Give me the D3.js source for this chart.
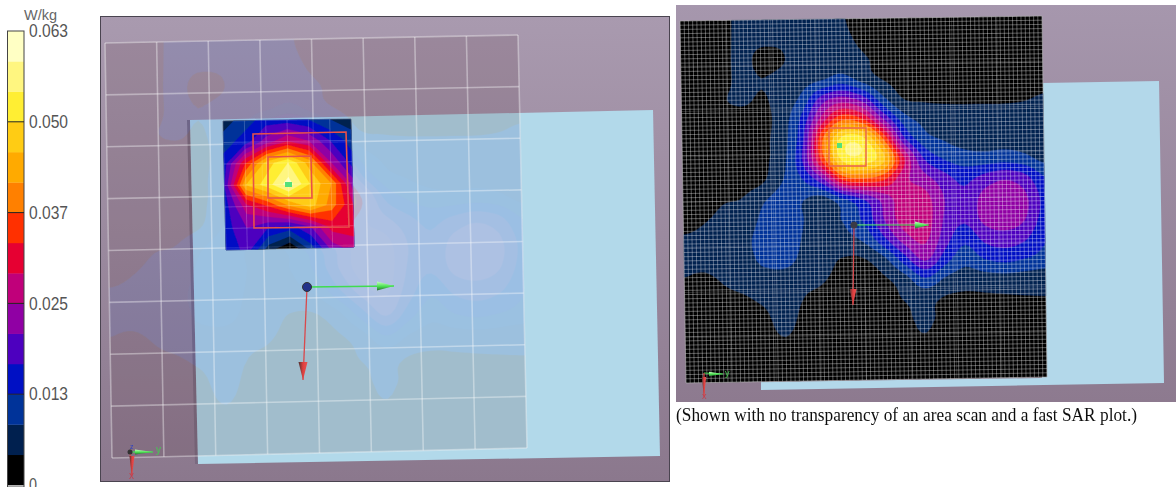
<!DOCTYPE html>
<html><head><meta charset="utf-8">
<style>html,body{margin:0;padding:0;background:#fff;overflow:hidden}svg{display:block}</style>
<script src="https://cdn.jsdelivr.net/npm/d3@7/dist/d3.min.js"></script>
</head><body><svg id="c" width="1176" height="487"></svg>
<script>
// Data: colour bands of the SAR scale, bottom to top of the legend
const bandColors = ["#000000","#00204f","#003399","#0010c4","#4d00bf","#9000a4","#c0007a","#e60032","#ff3000","#ff8000","#ffaa00","#ffcc14","#ffee33","#fff680","#ffffc4"];
// Same bands as they tint through the transparent area scan of the left view
const tintColors = ["#5a4148","#3d54ac","#3658bc","#3a4ccc","#6a50c8","#9a58c8","#ac60c0","#e60032","#ff3000","#ff8000","#ffaa00","#ffcc14","#ffee33","#fff680","#ffffc4"];
const scaleMax = 0.063;
const tickValues = [0.063,0.0504,0.0378,0.0252,0.0126,0];
const tickLabels = ["0.063","0.050","0.037","0.025","0.013","0"];
const unitLabel = "W/kg";
const caption = "(Shown with no transparency of an area scan and a fast SAR plot.)";
// Area scan read in legend band units (1 band = 0.0042 W/kg); 19 x 19 nodes
const areaScan = [
[.4,.4,.6,1.3,1.5,1.6,1.6,1.4,1.1,.6,.4,.3,.3,.3,.3,.3,.3,.3,.3],
[.4,.4,.6,1.3,1.2,1.2,1.5,1.4,1.25,.8,.4,.3,.3,.3,.3,.3,.3,.3,.3],
[.4,.4,.6,1.3,.7,.9,1.5,1.5,1.5,1.15,.7,.4,.3,.3,.3,.3,.3,.3,.3],
[.4,.4,.6,1.3,1.02,1.3,1.6,1.9,2.4,1.6,.95,.7,.5,.5,.5,.5,.5,.5,.6],
[.4,.4,.9,1.15,.9,1.4,2.3,4.5,5.4,4.5,2.3,1,.85,.8,.8,.8,.8,.9,1.05],
[.4,.4,.5,.6,.7,1.5,3.3,6.5,8.8,8,5,2.5,1.7,1.5,1.4,1.4,1.4,1.3,1.2],
[.4,.4,.5,.6,.8,1.6,3.8,9,12.4,12.3,9,4.3,2.4,1.9,1.6,1.6,1.7,1.6,1.3],
[.4,.4,.5,.6,.8,1.7,4.1,8.5,12.3,12.6,11.3,7.2,4,2.9,2.4,2.3,2.4,2.2,1.6],
[.4,.4,.5,.6,.9,2,3,4.8,8.2,8.8,8.2,6.3,5.4,4.4,3.7,4.3,4.8,4.3,3],
[.5,.7,.95,1.1,1.9,2.5,2,1.6,2.8,4,5.4,6.5,6.4,5,4.2,5.3,5.6,5.2,3.7],
[.6,.95,1.2,1.5,2.2,2.5,2,1.6,2.1,3.2,5,6.5,6.6,4.9,4.2,5.3,5.6,5.1,3.6],
[1.2,1.3,1.5,1.8,2.3,2.5,1.9,1.5,1.7,2.2,3.8,5.5,6.2,4.5,3.3,4.3,4.6,4.2,3.1],
[1.2,1.2,1.4,1.6,2.2,2.3,1.7,1.3,.9,.95,1.8,3.6,5.2,3.5,2.4,3.1,3.4,3.1,2.7],
[.95,.8,1.05,1.2,1.4,1.5,1.2,1.02,.7,.7,.9,1.6,2.9,1.9,1.5,1.6,1.7,1.6,1.5],
[.95,.6,.8,.9,1.1,1.4,.95,.8,.5,.5,.7,1.05,1.3,.9,.8,.85,.9,.95,.98],
[.5,.4,.5,.6,.8,1.3,.7,.5,.4,.4,.5,.85,1.15,.75,.6,.5,.5,.5,.5],
[.4,.3,.3,.4,.6,.9,.5,.4,.3,.3,.4,.7,.9,.5,.4,.3,.3,.3,.3],
[.3,.3,.3,.3,.3,.3,.3,.3,.3,.3,.3,.3,.3,.3,.3,.3,.3,.3,.3],
[.3,.3,.3,.3,.3,.3,.3,.3,.3,.3,.3,.3,.3,.3,.3,.3,.3,.3,.3]];
// Zoom scan over the hot spot, same units; 7 x 7 nodes
const zoomScan = [
[1.5,2.5,3.5,3.5,3,2,1.5],
[2.5,3.5,5.5,7,6,4,2.5],
[3.5,8,11.5,13,10.5,6,3.5],
[4,11,12.5,14.5,12,10,5.5],
[3.5,6.5,8,10,11.5,9.5,7],
[3.5,5,4,3.5,5,7.5,7.5],
[3,4.5,1.5,0,2.5,5.5,6.5]];

const svg = d3.select("#c");
const defs = svg.append("defs");
function soft(id,s){defs.append("filter").attr("id",id).attr("x","-5%").attr("y","-5%").attr("width","110%").attr("height","110%")
  .append("feGaussianBlur").attr("stdDeviation",s);}
soft("soft",0.6); soft("softT",0.3);
function bg(id,a,b){const g=defs.append("linearGradient").attr("id",id).attr("x1",0).attr("x2",0).attr("y1",0).attr("y2",1);
 g.append("stop").attr("offset",0).attr("stop-color",a);g.append("stop").attr("offset",1).attr("stop-color",b);}
bg("bgL","#a99aaf","#8b788d"); bg("bgR","#a697ad","#8d7a8f");

function quad(c){const [a,b,d,e]=c;return (u,v)=>[
 (1-v)*((1-u)*a[0]+u*b[0])+v*((1-u)*e[0]+u*d[0]),
 (1-v)*((1-u)*a[1]+u*b[1])+v*((1-u)*e[1]+u*d[1])];}
function poly(sel,c,fill){return sel.append("polygon").attr("points",c.join(" ")).attr("fill",fill);}
function upsample(g,f){const ny=g.length,nx=g[0].length,W=(nx-1)*f+1,H=(ny-1)*f+1,o=new Array(W*H);
 const cr=(p0,p1,p2,p3,t)=>.5*(2*p1+(p2-p0)*t+(2*p0-5*p1+4*p2-p3)*t*t+(3*p1-p0-3*p2+p3)*t*t*t);
 const at=(x,y)=>g[Math.max(0,Math.min(ny-1,y))][Math.max(0,Math.min(nx-1,x))];
 for(let j=0;j<H;j++)for(let i=0;i<W;i++){const xf=i/f,yf=j/f,x=Math.min(nx-2,Math.floor(xf)),y=Math.min(ny-2,Math.floor(yf)),tx=xf-x,ty=yf-y;
  const r=[-1,0,1,2].map(k=>cr(at(x-1,y+k),at(x,y+k),at(x+1,y+k),at(x+2,y+k),tx));
  o[j*W+i]=cr(r[0],r[1],r[2],r[3],ty);}
 return {values:o,w:W,h:H};}
function drawContours(sel,values,w,h,Q,opacity,colors){
 const tf=(c,n)=>Math.max(0,Math.min(1,(c-.5)/(n-1)));
 const path=d3.geoPath(d3.geoTransform({point(x,y){const p=Q(tf(x,w),tf(y,h));this.stream.point(p[0],p[1]);}}));
 const gen=d3.contours().size([w,h]).smooth(true);
 const g=sel.append("g").attr("opacity",opacity);
 colors.forEach((col,i)=>{
  const vals=i===0?values.map(v=>Math.max(v,0.01)):values;
  g.append("path").attr("d",path(gen.contour(vals,i===0?0:i))).attr("fill",col).attr("stroke",col).attr("stroke-width",.3);});
 return g;}
function mesh(sel,Q,nx,ny,stroke,op,w){
 const g=sel.append("g").attr("fill","none").attr("stroke",stroke).attr("stroke-opacity",op).attr("stroke-width",w);
 d3.range(nx+1).forEach(i=>{const a=Q(i/nx,0),b=Q(i/nx,1);g.append("line").attr("x1",a[0]).attr("y1",a[1]).attr("x2",b[0]).attr("y2",b[1]);});
 d3.range(ny+1).forEach(j=>{const a=Q(0,j/ny),b=Q(1,j/ny);g.append("line").attr("x1",a[0]).attr("y1",a[1]).attr("x2",b[0]).attr("y2",b[1]);});}
function rect4(sel,c,stroke,w){sel.append("polygon").attr("points",c.join(" ")).attr("fill","none").attr("stroke",stroke).attr("stroke-width",w);}
const gr=defs.append("linearGradient").attr("id","coneG").attr("x1",0).attr("x2",0).attr("y1",0).attr("y2",1);
gr.append("stop").attr("offset",0).attr("stop-color","#c8ffc0");gr.append("stop").attr("offset",.55).attr("stop-color","#49e050");gr.append("stop").attr("offset",1).attr("stop-color","#2b6b33");
const rg=defs.append("linearGradient").attr("id","coneR");
rg.append("stop").attr("offset",0).attr("stop-color","#4a3030");rg.append("stop").attr("offset",.5).attr("stop-color","#e04040");rg.append("stop").attr("offset",1).attr("stop-color","#e85050");
function axesGlyph(sel,o,gx,cx,gy,cy,r,w){
 sel.append("line").attr("x1",o[0]).attr("y1",o[1]).attr("x2",gx[0]).attr("y2",gx[1]).attr("stroke","#3fdc4f").attr("stroke-width",w);
 sel.append("polygon").attr("points",[[cx[0],cx[1]-r],gx,[cx[0],cx[1]+r]].join(" ")).attr("fill","url(#coneG)");
 sel.append("line").attr("x1",o[0]).attr("y1",o[1]).attr("x2",gy[0]).attr("y2",gy[1]).attr("stroke","#d9484c").attr("stroke-width",w);
 sel.append("polygon").attr("points",[[cy[0]-r,cy[1]],gy,[cy[0]+r,cy[1]]].join(" ")).attr("fill","url(#coneR)");
}

// ---------- legend
const lg=svg.append("g");
const yS=d3.scaleLinear().domain([0,scaleMax]).range([485,31]);
const bandW=scaleMax/bandColors.length;
lg.selectAll("rect").data(bandColors).join("rect")
 .attr("x",8).attr("width",16)
 .attr("y",(d,i)=>yS((i+1)*bandW)).attr("height",(d,i)=>yS(i*bandW)-yS((i+1)*bandW)+.3)
 .attr("fill",d=>d);
lg.append("rect").attr("x",7.5).attr("y",31).attr("width",16.5).attr("height",456).attr("fill","none").attr("stroke","#444").attr("stroke-width",1);
const axis=d3.axisRight(yS).tickValues(tickValues).tickSize(0).tickPadding(0).tickFormat((d,i)=>tickLabels[i]);
const ag=lg.append("g").attr("transform","translate(29,0)").call(axis);
ag.select(".domain").remove();
ag.selectAll("text").attr("x",0).attr("fill","#555").attr("font-family","'Liberation Sans',sans-serif").attr("font-size",17.5)
 .attr("lengthAdjust","spacingAndGlyphs").attr("textLength",(d,i)=>tickLabels[i].length>1?39:8);
lg.selectAll("line.t").data(tickValues.slice(1,5)).join("line").attr("class","t")
 .attr("x1",8).attr("x2",24).attr("y1",d=>yS(d)).attr("y2",d=>yS(d)).attr("stroke","#222").attr("stroke-width",1);
lg.append("text").attr("x",24).attr("y",20).attr("fill","#666").attr("font-family","'Liberation Sans',sans-serif").attr("font-size",15).attr("lengthAdjust","spacingAndGlyphs").attr("textLength",33).text(unitLabel);

const up=upsample(areaScan,5);

// ---------- left panel
const L=svg.append("g");
L.append("rect").attr("x",100.5).attr("y",16.5).attr("width",569).attr("height",465).attr("fill","url(#bgL)").attr("stroke","#4a4450").attr("stroke-width",1);
const Ls=L.append("g").attr("filter","url(#soft)");
poly(Ls,[[187,120],[190,120],[198,464],[195,464]],"#7a6a80");
poly(Ls,[[190,120],[653,110],[660,456],[198,464]],"#b2d9ea");
const QA=quad([[105,43],[518,35],[527,448],[112,458]]);
drawContours(Ls,up.values,up.w,up.h,QA,.18,tintColors);
mesh(Ls,QA,8,8,"#fff",.3,1.6);
const QZ=quad([[223,121],[351,119],[354,247],[226,250]]);
drawContours(Ls,zoomScan.flat(),7,7,QZ,1,bandColors);
mesh(Ls,QZ,6,6,"#fff",.2,1);
mesh(Ls,QA,8,8,"#fff",.1,1.4);
rect4(Ls,[[253,134],[346,132],[349,227],[254,228]],"#e8504a",1.6);
rect4(Ls,[[268,157],[311,156],[312,198],[268,198]],"#e8504a",1.6);
Ls.append("rect").attr("x",285).attr("y",182).attr("width",7).attr("height",5).attr("fill","#55e07a");
axesGlyph(Ls,[307,287],[394,286],[377,286],[303,380],[303,362],4.5,1.3);
Ls.append("circle").attr("cx",307).attr("cy",287).attr("r",4.5).attr("fill","#22308a").attr("stroke","#333");
axesGlyph(Ls,[130,452],[153,452],[135,452],[132,476],[132,456],2.5,1.2);
Ls.append("circle").attr("cx",130).attr("cy",452).attr("r",2.5).attr("fill","#333");
Ls.append("text").attr("x",156).attr("y",453).attr("font-size",10).attr("fill","#45c850").attr("font-family","Liberation Sans").text("y");
Ls.append("text").attr("x",129).attr("y",479).attr("font-size",10).attr("fill","#c04050").attr("font-family","Liberation Sans").text("x");
Ls.append("text").attr("x",130).attr("y",449).attr("font-size",7).attr("fill","#3040c0").attr("font-family","Liberation Sans").text("z");

// ---------- right panel
const R=svg.append("g");
R.append("rect").attr("x",676).attr("y",5).attr("width",500).attr("height",397).attr("fill","url(#bgR)");
const Rs=R.append("g").attr("filter","url(#soft)");
poly(Rs,[[1042,83],[1159,81],[1164,383],[761,390],[761,382],[1042,378]],"#b3d8ea");
const QR=quad([[680,21],[1042,16],[1047,377],[686,383]]);
drawContours(Rs,up.values,up.w,up.h,QR,1,bandColors);
mesh(Rs,QR,86,86,"#fff",.34,1);
mesh(Rs,QR,8,8,"#fff",.14,1.2);
rect4(Rs,[[829,128],[866,128],[866,166],[829,166]],"#e8604a",1.4);
Rs.append("rect").attr("x",837).attr("y",143).attr("width",5).attr("height",5).attr("fill","#55e07a");
axesGlyph(Rs,[854,225],[929,225],[915,225],[853,305],[853,289],3.5,1.2);
Rs.append("circle").attr("cx",854).attr("cy",225).attr("r",3.5).attr("fill","#3a3a44");
axesGlyph(Rs,[704,373],[723,374],[709,374],[704,397],[704,377],2.2,1.2);
Rs.append("text").attr("x",725).attr("y",376).attr("font-size",9).attr("fill","#45c850").attr("font-family","Liberation Sans").text("y");
Rs.append("text").attr("x",702).attr("y",399).attr("font-size",9).attr("fill","#c04050").attr("font-family","Liberation Sans").text("x");

svg.append("text").attr("x",676).attr("y",421).attr("font-family","'Liberation Serif',serif").attr("font-size",18.5)
 .attr("textLength",461).attr("lengthAdjust","spacingAndGlyphs").attr("fill","#111").attr("filter","url(#softT)").text(caption);
</script></body></html>
